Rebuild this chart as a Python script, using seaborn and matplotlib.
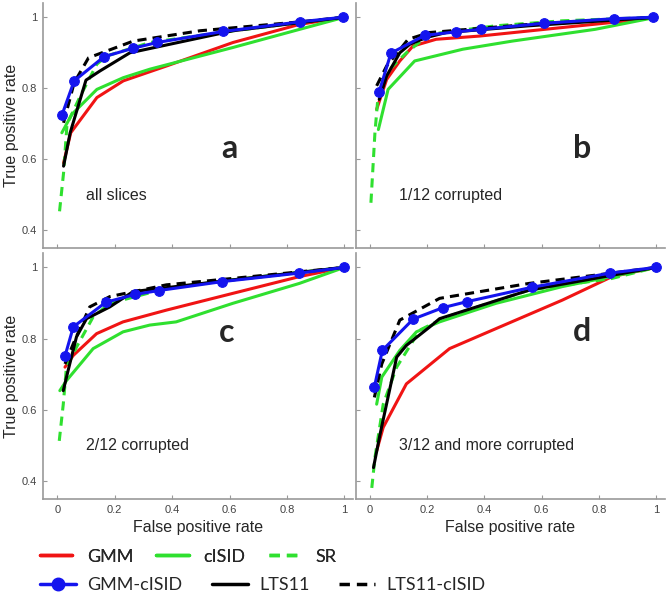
"""
ROC curves: 4 panels (a-d) plus shared legend below
"""
import matplotlib
matplotlib.use('Agg')
import matplotlib.pyplot as plt
from matplotlib.lines import Line2D
import seaborn as sns

# --- data ---
methods = ['GMM', 'cISID', 'SR', 'LTS11', 'LTS11-cISID', 'GMM-cISID']

# panel a: all slices
a_gmm_x = [0.022, 0.047, 0.138, 0.230, 0.381, 0.612, 0.844, 1.0]
a_gmm_y = [0.590, 0.675, 0.774, 0.821, 0.863, 0.929, 0.980, 1.0]
a_cisid_x = [0.016, 0.051, 0.138, 0.230, 0.323, 0.612, 0.844, 1.0]
a_cisid_y = [0.675, 0.727, 0.797, 0.830, 0.854, 0.915, 0.966, 1.0]
a_sr_x = [0.008, 0.022, 0.034, 0.080, 0.138, 0.172, 0.323, 0.612, 0.844, 1.0]
a_sr_y = [0.454, 0.562, 0.699, 0.778, 0.868, 0.891, 0.929, 0.962, 0.985, 1.0]
a_lts_x = [0.022, 0.045, 0.100, 0.149, 0.253, 0.612, 1.0]
a_lts_y = [0.581, 0.675, 0.823, 0.849, 0.900, 0.962, 1.0]
a_ltsc_x = [0.022, 0.059, 0.109, 0.265, 0.497, 0.844, 1.0]
a_ltsc_y = [0.703, 0.816, 0.886, 0.933, 0.962, 0.987, 1.0]
a_gmmc_x = [0.016, 0.059, 0.163, 0.265, 0.348, 0.578, 0.844, 0.994]
a_gmmc_y = [0.724, 0.821, 0.889, 0.913, 0.929, 0.960, 0.987, 1.0]

# panel b: 1/12 corrupted
b_gmm_x = [0.023, 0.058, 0.104, 0.150, 0.231, 0.382, 0.671, 0.903, 1.0]
b_gmm_y = [0.741, 0.825, 0.877, 0.919, 0.938, 0.947, 0.971, 0.990, 1.0]
b_cisid_x = [0.029, 0.063, 0.156, 0.324, 0.498, 0.787, 1.0]
b_cisid_y = [0.684, 0.797, 0.877, 0.910, 0.933, 0.966, 1.0]
b_sr_x = [0.003, 0.017, 0.029, 0.069, 0.127, 0.208, 0.440, 0.671, 1.0]
b_sr_y = [0.478, 0.675, 0.788, 0.854, 0.900, 0.952, 0.976, 0.990, 1.0]
b_lts_x = [0.032, 0.058, 0.104, 0.139, 0.197, 0.266, 0.556, 1.0]
b_lts_y = [0.769, 0.835, 0.900, 0.924, 0.943, 0.957, 0.976, 1.0]
b_ltsc_x = [0.023, 0.058, 0.133, 0.208, 0.556, 1.0]
b_ltsc_y = [0.807, 0.863, 0.938, 0.957, 0.980, 1.0]
b_gmmc_x = [0.032, 0.073, 0.191, 0.301, 0.388, 0.608, 0.853, 0.990]
b_gmmc_y = [0.791, 0.899, 0.949, 0.959, 0.966, 0.983, 0.996, 1.0]

# panel c: 2/12 corrupted
c_gmm_x = [0.027, 0.056, 0.137, 0.229, 0.380, 0.611, 0.843, 1.0]
c_gmm_y = [0.720, 0.753, 0.814, 0.847, 0.880, 0.927, 0.974, 1.0]
c_cisid_x = [0.009, 0.032, 0.125, 0.229, 0.322, 0.414, 0.611, 0.843, 1.0]
c_cisid_y = [0.654, 0.682, 0.772, 0.819, 0.838, 0.847, 0.899, 0.955, 1.0]
c_sr_x = [0.007, 0.021, 0.032, 0.067, 0.125, 0.183, 0.380, 0.611, 1.0]
c_sr_y = [0.513, 0.616, 0.720, 0.776, 0.861, 0.899, 0.941, 0.965, 1.0]
c_lts_x = [0.021, 0.038, 0.067, 0.102, 0.183, 0.264, 0.611, 1.0]
c_lts_y = [0.654, 0.711, 0.805, 0.856, 0.889, 0.932, 0.965, 1.0]
c_ltsc_x = [0.027, 0.056, 0.113, 0.183, 0.380, 0.611, 1.0]
c_ltsc_y = [0.729, 0.786, 0.889, 0.918, 0.951, 0.969, 1.0]
c_gmmc_x = [0.027, 0.056, 0.169, 0.270, 0.354, 0.574, 0.843, 1.0]
c_gmmc_y = [0.751, 0.833, 0.902, 0.924, 0.935, 0.960, 0.984, 1.0]

# panel d: 3/12 and more corrupted
d_gmm_x = [0.023, 0.046, 0.127, 0.278, 0.440, 0.672, 0.846, 1.0]
d_gmm_y = [0.485, 0.551, 0.673, 0.772, 0.828, 0.908, 0.974, 1.0]
d_cisid_x = [0.023, 0.041, 0.104, 0.162, 0.243, 0.440, 0.672, 1.0]
d_cisid_y = [0.616, 0.692, 0.767, 0.819, 0.847, 0.899, 0.946, 1.0]
d_sr_x = [0.006, 0.017, 0.046, 0.093, 0.174, 0.267, 0.556, 0.846, 1.0]
d_sr_y = [0.381, 0.466, 0.616, 0.720, 0.824, 0.861, 0.936, 0.969, 1.0]
d_lts_x = [0.012, 0.035, 0.093, 0.127, 0.209, 0.243, 0.556, 1.0]
d_lts_y = [0.438, 0.532, 0.748, 0.781, 0.833, 0.856, 0.936, 1.0]
d_ltsc_x = [0.015, 0.041, 0.104, 0.243, 0.556, 0.846, 1.0]
d_ltsc_y = [0.635, 0.729, 0.852, 0.913, 0.955, 0.984, 1.0]
d_gmmc_x = [0.015, 0.043, 0.151, 0.255, 0.340, 0.565, 0.840, 1.0]
d_gmmc_y = [0.664, 0.767, 0.855, 0.887, 0.904, 0.944, 0.984, 1.0]

panel_letters = ['a', 'b', 'c', 'd']
panel_notes = ['all slices', '1/12 corrupted', '2/12 corrupted', '3/12 and more corrupted']
y_ticks = [0.4, 0.6, 0.8, 1.0]
y_ticklabels = ['0.4', '0.6', '0.8', '1']
x_ticks = [0, 0.2, 0.4, 0.6, 0.8, 1.0]
x_ticklabels = ['0', '0.2', '0.4', '0.6', '0.8', '1']

panels = [
    [(a_gmm_x, a_gmm_y), (a_cisid_x, a_cisid_y), (a_sr_x, a_sr_y),
     (a_lts_x, a_lts_y), (a_ltsc_x, a_ltsc_y), (a_gmmc_x, a_gmmc_y)],
    [(b_gmm_x, b_gmm_y), (b_cisid_x, b_cisid_y), (b_sr_x, b_sr_y),
     (b_lts_x, b_lts_y), (b_ltsc_x, b_ltsc_y), (b_gmmc_x, b_gmmc_y)],
    [(c_gmm_x, c_gmm_y), (c_cisid_x, c_cisid_y), (c_sr_x, c_sr_y),
     (c_lts_x, c_lts_y), (c_ltsc_x, c_ltsc_y), (c_gmmc_x, c_gmmc_y)],
    [(d_gmm_x, d_gmm_y), (d_cisid_x, d_cisid_y), (d_sr_x, d_sr_y),
     (d_lts_x, d_lts_y), (d_ltsc_x, d_ltsc_y), (d_gmmc_x, d_gmmc_y)],
]

# line styles per method
styles = {
    'GMM':         dict(color='#f01414', linestyle='-', marker=None),
    'cISID':       dict(color='#2fe02f', linestyle='-', marker=None),
    'SR':          dict(color='#2fe02f', linestyle=(0, (3, 2)), marker=None),
    'LTS11':       dict(color='black', linestyle='-', marker=None),
    'LTS11-cISID': dict(color='black', linestyle=(0, (3, 2)), marker=None),
    'GMM-cISID':   dict(color='#1414ee', linestyle='-', marker='o'),
}

sns.set_style('white')
plt.rcParams['font.family'] = ['Liberation Sans', 'DejaVu Sans']

fig = plt.figure(figsize=(6.7, 6.07), dpi=100)
# axes boxes [left, bottom, width, height] in figure fraction
boxes = [
    [0.064, 0.591, 0.463, 0.404],
    [0.531, 0.591, 0.461, 0.404],
    [0.064, 0.178, 0.463, 0.405],
    [0.531, 0.178, 0.461, 0.405],
]
letter_pos = [(0.60, 0.63), (0.74, 0.63), (0.59, 0.817), (0.74, 0.82)]

for i, box in enumerate(boxes):
    ax = fig.add_axes(box)
    for name, (xs, ys) in zip(methods, panels[i]):
        st = styles[name]
        sns.lineplot(x=xs, y=ys, ax=ax, sort=False, color=st['color'],
                     linestyle=st['linestyle'], linewidth=2.2,
                     marker=st['marker'], markersize=7,
                     markeredgecolor=st['color'])
    ax.set_xlim(-0.05, 1.03)
    ax.set_ylim(0.35, 1.04)
    ax.set_xticks(x_ticks)
    ax.set_yticks(y_ticks)
    ax.tick_params(direction='in', length=3, width=0.8, colors='#999999',
                   labelcolor='#444444', labelsize=8, pad=4,
                   bottom=True, left=True)
    for side in ['top', 'right']:
        ax.spines[side].set_visible(False)
    for side in ['left', 'bottom']:
        ax.spines[side].set_color('#999999')
        ax.spines[side].set_linewidth(1.2)

    if i in (0, 2):
        ax.set_yticklabels(y_ticklabels)
        ax.set_ylabel('True positive rate', fontsize=11.5, labelpad=2)
    else:
        ax.set_yticklabels([])
    if i in (2, 3):
        ax.set_xticklabels(x_ticklabels)
        ax.set_xlabel('False positive rate', fontsize=11.5, labelpad=4)
    else:
        ax.set_xticklabels([])

    lx, ly = letter_pos[i]
    ax.text(lx, ly, panel_letters[i], fontsize=23, fontweight='bold',
            family=['Lato', 'DejaVu Sans'], ha='center', va='center')
    ax.text(0.10, 0.499, panel_notes[i], fontsize=11.5, ha='left', va='center')

# legend, two rows
handles = {}
for name in methods:
    st = styles[name]
    handles[name] = Line2D([], [], color=st['color'], linestyle=st['linestyle'],
                           linewidth=2.5, marker=st['marker'], markersize=9)

row1 = ['GMM', 'cISID', 'SR']
row2 = ['GMM-cISID', 'LTS11', 'LTS11-cISID']
leg1 = fig.legend([handles[n] for n in row1], row1, loc='center left',
                  bbox_to_anchor=(0.035, 0.083), ncol=3, frameon=False,
                  prop={'family': 'Lato', 'size': 13}, handlelength=1.8,
                  handletextpad=0.8, columnspacing=1.3)
fig.add_artist(leg1)
fig.legend([handles[n] for n in row2], row2, loc='center left',
           bbox_to_anchor=(0.035, 0.036), ncol=3, frameon=False,
           prop={'family': 'Lato', 'size': 13}, handlelength=2.0,
           handletextpad=0.65, columnspacing=1.6)

fig.savefig('out.png', dpi=100)
